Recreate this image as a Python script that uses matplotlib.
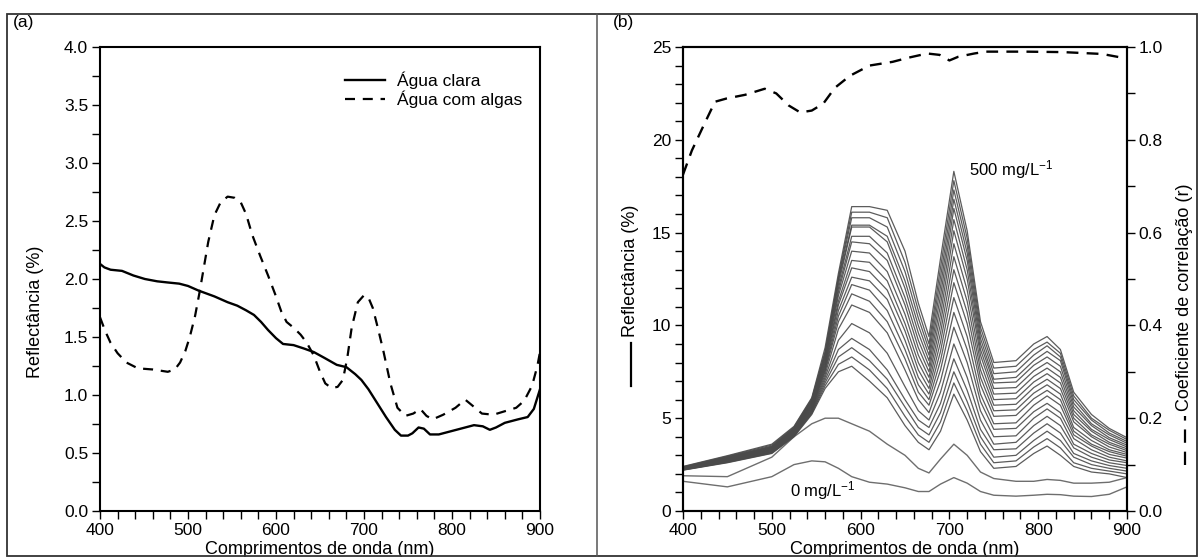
import matplotlib
matplotlib.use("Agg")
import matplotlib.pyplot as plt
from matplotlib.ticker import MultipleLocator, FormatStrFormatter
from matplotlib.patches import Rectangle
from matplotlib.lines import Line2D

plt.rcParams['font.family'] = ['Liberation Sans', 'DejaVu Sans']
plt.rcParams['mathtext.fontset'] = 'custom'
plt.rcParams['mathtext.rm'] = 'Liberation Sans'
plt.rcParams['mathtext.default'] = 'regular'

# ---------------- Panel (a) data ----------------
wl_clear = [400, 405, 412, 425, 438, 451, 465, 477, 490, 500, 512, 530, 545, 556, 566, 575, 583, 591, 600, 608,
            620, 632, 643, 655, 669, 680, 690, 697, 705, 715, 725, 735, 742, 750, 755, 762, 768, 775, 785, 800,
            815, 825, 835, 843, 850, 860, 875, 886, 893, 900]
refl_clear = [2.13, 2.10, 2.08, 2.07, 2.03, 2.00, 1.98, 1.97, 1.96, 1.94, 1.90, 1.85, 1.80, 1.77, 1.73, 1.69, 1.63, 1.56, 1.49, 1.44,
              1.43, 1.40, 1.37, 1.32, 1.26, 1.24, 1.18, 1.13, 1.05, 0.93, 0.81, 0.70, 0.65, 0.65, 0.67, 0.72, 0.71, 0.66, 0.66, 0.69,
              0.72, 0.74, 0.73, 0.70, 0.72, 0.76, 0.79, 0.81, 0.88, 1.05]

wl_algae = [400, 406, 412, 420, 430, 443, 460, 477, 485, 491, 497, 502, 508, 513, 518, 523, 530, 537, 545, 553,
            560, 566, 573, 582, 591, 599, 606, 612, 620, 628, 635, 643, 650, 656, 663, 670, 676, 681, 686, 693,
            700, 705, 710, 716, 722, 730, 738, 747, 756, 764, 771, 778, 790, 804, 815, 823, 834, 847, 860, 873,
            882, 891, 897, 900]
refl_algae = [1.67, 1.55, 1.45, 1.36, 1.28, 1.23, 1.22, 1.20, 1.22, 1.28, 1.38, 1.50, 1.68, 1.88, 2.10, 2.32, 2.55, 2.66, 2.71, 2.70,
              2.66, 2.56, 2.38, 2.20, 2.03, 1.87, 1.72, 1.63, 1.58, 1.52, 1.45, 1.34, 1.20, 1.10, 1.06, 1.07, 1.13, 1.32, 1.58, 1.80,
              1.86, 1.84, 1.75, 1.57, 1.38, 1.10, 0.89, 0.82, 0.84, 0.88, 0.82, 0.79, 0.83, 0.89, 0.96, 0.91, 0.84, 0.83, 0.86, 0.89,
              0.95, 1.08, 1.25, 1.37]

legend_labels = ['Água clara', 'Água com algas']

# ---------------- Panel (b) data ----------------
wl_b = [400, 450, 500, 525, 545, 560, 575, 590, 610, 630, 650, 665, 677, 690, 705, 720, 735, 750, 775, 795,
        810, 825, 840, 860, 880, 900]

r_000 = [1.60, 1.30, 1.85, 2.50, 2.70, 2.65, 2.30, 1.85, 1.55, 1.45, 1.25, 1.05, 1.05, 1.45, 1.80, 1.50, 1.05, 0.85, 0.80, 0.85, 0.90, 0.88, 0.80, 0.78, 0.90, 1.30]
r_025 = [1.90, 1.85, 2.90, 4.00, 4.70, 5.00, 5.00, 4.70, 4.30, 3.60, 3.00, 2.30, 2.05, 2.80, 3.60, 3.00, 2.10, 1.75, 1.60, 1.60, 1.70, 1.65, 1.50, 1.50, 1.55, 1.80]
r_050 = [2.20, 2.60, 3.10, 4.00, 5.20, 6.60, 7.50, 7.80, 7.00, 6.10, 4.60, 3.70, 3.30, 4.30, 6.30, 4.90, 3.20, 2.30, 2.40, 3.10, 3.50, 3.00, 2.40, 2.10, 2.00, 1.80]
r_075 = [2.21, 2.62, 3.12, 4.03, 5.25, 6.75, 7.90, 8.30, 7.60, 6.60, 5.10, 4.10, 3.70, 4.80, 6.90, 5.40, 3.60, 2.60, 2.70, 3.45, 3.90, 3.40, 2.60, 2.30, 2.15, 2.00]
r_100 = [2.22, 2.64, 3.15, 4.06, 5.30, 6.90, 8.30, 8.80, 8.10, 7.10, 5.60, 4.50, 4.10, 5.30, 7.50, 5.90, 4.00, 2.90, 3.00, 3.80, 4.30, 3.80, 2.90, 2.50, 2.30, 2.15]
r_125 = [2.23, 2.66, 3.17, 4.09, 5.35, 7.05, 8.70, 9.30, 8.70, 7.60, 6.00, 4.90, 4.50, 5.80, 8.20, 6.50, 4.40, 3.30, 3.35, 4.20, 4.70, 4.20, 3.10, 2.70, 2.45, 2.30]
r_150 = [2.24, 2.68, 3.20, 4.12, 5.40, 7.20, 9.20, 10.10, 9.60, 8.50, 6.70, 5.40, 4.90, 6.40, 9.00, 7.20, 4.90, 3.60, 3.70, 4.60, 5.10, 4.60, 3.40, 2.90, 2.60, 2.45]
r_175 = [2.25, 2.70, 3.22, 4.15, 5.45, 7.35, 9.80, 11.10, 10.70, 9.60, 7.60, 6.00, 5.30, 7.00, 9.90, 8.00, 5.40, 4.00, 4.05, 5.00, 5.50, 5.00, 3.60, 3.10, 2.75, 2.60]
r_200 = [2.26, 2.72, 3.25, 4.18, 5.50, 7.50, 10.20, 11.70, 11.30, 10.20, 8.20, 6.40, 5.70, 7.60, 10.70, 8.70, 5.90, 4.40, 4.45, 5.35, 5.80, 5.30, 3.90, 3.30, 2.90, 2.70]
r_225 = [2.27, 2.74, 3.27, 4.21, 5.55, 7.60, 10.50, 12.20, 11.90, 10.80, 8.70, 6.80, 6.00, 8.10, 11.50, 9.40, 6.30, 4.70, 4.75, 5.70, 6.20, 5.70, 4.10, 3.50, 3.05, 2.85]
r_250 = [2.28, 2.76, 3.30, 4.24, 5.60, 7.70, 10.80, 12.60, 12.40, 11.40, 9.20, 7.20, 6.30, 8.60, 12.30, 10.10, 6.80, 5.10, 5.15, 6.05, 6.50, 6.00, 4.30, 3.60, 3.20, 2.95]
r_275 = [2.29, 2.78, 3.32, 4.27, 5.65, 7.80, 11.10, 13.10, 12.90, 11.90, 9.70, 7.60, 6.60, 9.10, 13.00, 10.70, 7.20, 5.40, 5.45, 6.35, 6.80, 6.30, 4.50, 3.80, 3.30, 3.05]
r_300 = [2.30, 2.80, 3.35, 4.30, 5.70, 7.90, 11.30, 13.50, 13.40, 12.40, 10.10, 8.00, 6.90, 9.60, 13.70, 11.30, 7.60, 5.70, 5.75, 6.65, 7.10, 6.60, 4.80, 4.00, 3.45, 3.15]
r_325 = [2.31, 2.82, 3.37, 4.33, 5.75, 8.00, 11.60, 14.00, 13.90, 12.90, 10.60, 8.40, 7.20, 10.10, 14.40, 11.90, 8.00, 6.00, 6.05, 6.95, 7.40, 6.90, 5.00, 4.10, 3.60, 3.25]
r_350 = [2.32, 2.84, 3.40, 4.36, 5.80, 8.10, 11.80, 14.50, 14.40, 13.50, 11.10, 8.80, 7.50, 10.60, 15.10, 12.50, 8.40, 6.30, 6.35, 7.25, 7.70, 7.20, 5.20, 4.30, 3.70, 3.35]
r_375 = [2.33, 2.86, 3.42, 4.39, 5.85, 8.20, 12.00, 14.80, 14.80, 13.90, 11.50, 9.20, 7.80, 11.10, 15.70, 13.00, 8.70, 6.60, 6.65, 7.55, 8.00, 7.50, 5.40, 4.40, 3.85, 3.45]
r_400 = [2.34, 2.88, 3.45, 4.42, 5.90, 8.30, 12.20, 15.30, 15.30, 14.50, 12.00, 9.60, 8.10, 11.60, 16.30, 13.50, 9.00, 6.90, 6.95, 7.85, 8.30, 7.80, 5.60, 4.60, 3.95, 3.55]
r_425 = [2.35, 2.90, 3.47, 4.45, 5.95, 8.40, 12.40, 15.40, 15.40, 14.80, 12.40, 10.00, 8.40, 12.10, 16.80, 13.90, 9.30, 7.10, 7.20, 8.10, 8.60, 8.10, 5.80, 4.70, 4.10, 3.65]
r_450 = [2.36, 2.92, 3.50, 4.48, 6.00, 8.50, 12.50, 15.80, 15.80, 15.30, 12.90, 10.40, 8.70, 12.60, 17.30, 14.30, 9.60, 7.40, 7.50, 8.40, 8.90, 8.30, 6.00, 4.90, 4.20, 3.75]
r_475 = [2.38, 2.95, 3.55, 4.52, 6.05, 8.60, 12.60, 16.10, 16.10, 15.80, 13.40, 10.80, 9.00, 13.10, 17.80, 14.70, 9.90, 7.70, 7.80, 8.70, 9.10, 8.50, 6.20, 5.00, 4.35, 3.85]
r_500 = [2.40, 2.98, 3.60, 4.56, 6.10, 8.80, 12.80, 16.40, 16.40, 16.20, 14.00, 11.20, 9.40, 13.60, 18.30, 15.10, 10.20, 8.00, 8.10, 9.00, 9.40, 8.70, 6.40, 5.20, 4.45, 3.95]

wl_r = [400, 410, 423, 436, 449, 470, 492, 505, 519, 532, 545, 558, 571, 588, 610, 636, 654, 675, 689, 700,
        710, 728, 741, 785, 828, 872, 900]
corr_r = [0.725, 0.777, 0.83, 0.882, 0.889, 0.897, 0.91, 0.90, 0.874, 0.859, 0.863, 0.878, 0.912, 0.938, 0.96, 0.968,
          0.977, 0.986, 0.983, 0.971, 0.979, 0.986, 0.99, 0.99, 0.989, 0.985, 0.975]

low_curves = [r_000, r_025]
group_curves = [r_050, r_075, r_100, r_125, r_150, r_175, r_200, r_225, r_250, r_275, r_300, r_325,
                r_350, r_375, r_400, r_425, r_450, r_475, r_500]

# ---------------- Figure ----------------
W, H = 1204, 557
fig = plt.figure(figsize=(W / 100, H / 100), dpi=100)

FS = 12.5
FL = 13

def fx(px):
    return px / W

def fy(py):
    return 1 - py / H

# outer frame and divider
fig.add_artist(Rectangle((fx(7), fy(556)), fx(1197) - fx(7), fy(14) - fy(556),
                         fill=False, lw=1.3, ec='#333333', transform=fig.transFigure))
fig.add_artist(Line2D([fx(597), fx(597)], [fy(556), fy(14)], lw=1.1, color='#555555',
                      transform=fig.transFigure))

ax_bottom = fy(511)
ax_top = fy(47)

def style_axis(ax):
    for s in ax.spines.values():
        s.set_linewidth(1.5)
    ax.tick_params(which='major', direction='out', length=6, width=1.0, labelsize=FS, pad=2.5)
    ax.tick_params(which='minor', direction='out', length=6, width=1.0)

# ---- Panel (a)
axa = fig.add_axes([fx(100), ax_bottom, fx(540) - fx(100), ax_top - ax_bottom])
axa.plot(wl_clear, refl_clear, color='black', lw=1.7, label=legend_labels[0])
axa.plot(wl_algae, refl_algae, color='black', lw=1.6, dashes=(4.5, 3.5), label=legend_labels[1])
axa.set_xlim(400, 900)
axa.set_ylim(0, 4.0)
axa.xaxis.set_major_locator(MultipleLocator(100))
axa.xaxis.set_minor_locator(MultipleLocator(20))
axa.yaxis.set_major_locator(MultipleLocator(0.5))
axa.yaxis.set_minor_locator(MultipleLocator(0.25))
axa.yaxis.set_major_formatter(FormatStrFormatter('%.1f'))
style_axis(axa)
axa.set_xlabel('Comprimentos de onda (nm)', fontsize=FL, labelpad=2)
axa.set_ylabel('Reflectância (%)', fontsize=FL)
axa.yaxis.set_label_coords(-0.128, 0.43)
axa.legend(loc='upper right', bbox_to_anchor=(0.98, 0.965), frameon=False, fontsize=FS,
           handlelength=2.3, handletextpad=0.7, labelspacing=0.05, borderpad=0.0)
fig.text(fx(13), fy(23), '(a)', fontsize=FS, va='center', ha='left')

# ---- Panel (b)
axb = fig.add_axes([fx(683), ax_bottom, fx(1127) - fx(683), ax_top - ax_bottom])
for c in low_curves:
    axb.plot(wl_b, c, color='#6e6e6e', lw=1.0)
for c in group_curves:
    axb.plot(wl_b, c, color='#4a4a4a', lw=0.9, alpha=0.9)
axb.set_xlim(400, 900)
axb.set_ylim(0, 25)
axb.xaxis.set_major_locator(MultipleLocator(100))
axb.xaxis.set_minor_locator(MultipleLocator(20))
axb.yaxis.set_major_locator(MultipleLocator(5))
axb.yaxis.set_minor_locator(MultipleLocator(1))
style_axis(axb)
axb.set_xlabel('Comprimentos de onda (nm)', fontsize=FL, labelpad=2)
axb.text(722, r_500[14] + 0.1, '500 mg/L$^{-1}$', fontsize=FS - 0.5, ha='left', va='center')
axb.text(520, 1.1, '0 mg/L$^{-1}$', fontsize=FS - 0.5, ha='left', va='center')

axr = axb.twinx()
axr.plot(wl_r, corr_r, color='black', lw=1.7, dashes=(5, 3.5))
axr.set_ylim(0, 1.0)
axr.yaxis.set_major_locator(MultipleLocator(0.2))
axr.yaxis.set_minor_locator(MultipleLocator(0.1))
axr.yaxis.set_major_formatter(FormatStrFormatter('%.1f'))
style_axis(axr)
fig.text(fx(613), fy(23), '(b)', fontsize=FS, va='center', ha='left')

# axis titles of panel (b) with line-style keys
lx = -0.118
axb.text(lx, 0.375, 'Reflectância (%)', rotation=90, fontsize=FL, ha='center', va='bottom',
         transform=axb.transAxes)
axb.add_line(Line2D([lx, lx], [0.27, 0.362], color='black', lw=1.6, transform=axb.transAxes, clip_on=False))

rx = 1.13
axb.text(rx, 0.215, 'Coeficiente de correlação (r)', rotation=90, fontsize=FL, ha='center', va='bottom',
         transform=axb.transAxes)
axb.add_line(Line2D([rx, rx], [0.1, 0.205], color='black', lw=1.6, dashes=(6, 4),
                    transform=axb.transAxes, clip_on=False))

fig.savefig('out.png', dpi=100)
